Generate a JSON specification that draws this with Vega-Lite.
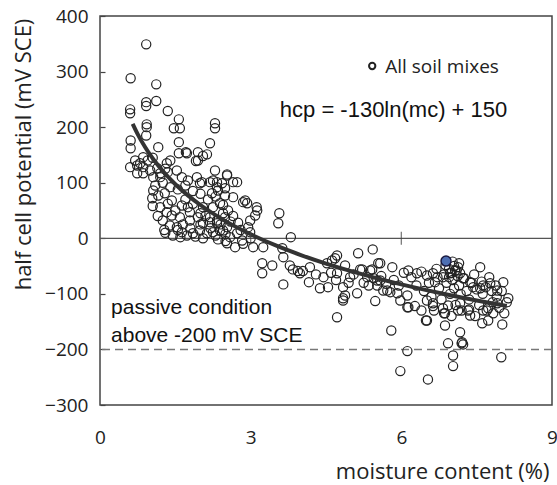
{
"$schema": "https://vega.github.io/schema/vega-lite/v6.json",
"width": 452, "height": 389,
"autosize": {"type": "none"},
"padding": {"left": 100, "top": 16, "right": 5, "bottom": 80},
"background": "white",
"config": {"view": {"stroke": "#444", "strokeWidth": 1.5}, "axis": {"grid": false}},
"datasets": {
"pts": [
{"mc":0.92,"hcp":349},{"mc":0.61,"hcp":288},{"mc":1.12,"hcp":277},{"mc":0.60,"hcp":232},{"mc":0.60,"hcp":225},{"mc":0.92,"hcp":245},{"mc":0.92,"hcp":238},{"mc":1.12,"hcp":247},{"mc":1.35,"hcp":229},{"mc":1.57,"hcp":214},{"mc":1.47,"hcp":198},{"mc":1.59,"hcp":198},{"mc":2.29,"hcp":207},{"mc":2.29,"hcp":198},{"mc":0.93,"hcp":205},{"mc":0.93,"hcp":200},{"mc":0.92,"hcp":185},{"mc":0.61,"hcp":176},{"mc":0.61,"hcp":162},{"mc":1.16,"hcp":164},{"mc":1.57,"hcp":173},{"mc":1.71,"hcp":155},{"mc":1.57,"hcp":153},{"mc":2.19,"hcp":171},{"mc":2.13,"hcp":151},{"mc":2.05,"hcp":148},{"mc":1.95,"hcp":155},{"mc":1.95,"hcp":140},{"mc":1.91,"hcp":139},{"mc":0.60,"hcp":128},{"mc":0.86,"hcp":146},{"mc":2.29,"hcp":122},{"mc":2.53,"hcp":115},{"mc":2.73,"hcp":101},{"mc":2.43,"hcp":99},{"mc":2.33,"hcp":101},{"mc":2.89,"hcp":68},{"mc":3.12,"hcp":56},{"mc":2.93,"hcp":63},{"mc":3.57,"hcp":45},{"mc":3.55,"hcp":27},{"mc":3.80,"hcp":2},
{"mc":0.74,"hcp":131},{"mc":0.86,"hcp":128},{"mc":1.0,"hcp":122},{"mc":1.14,"hcp":126},{"mc":1.33,"hcp":135},{"mc":1.35,"hcp":119},{"mc":1.2,"hcp":117},{"mc":1.06,"hcp":110},{"mc":0.86,"hcp":117},{"mc":0.74,"hcp":117},{"mc":1.53,"hcp":122},{"mc":1.63,"hcp":110},{"mc":1.75,"hcp":104},{"mc":1.93,"hcp":110},{"mc":1.99,"hcp":99},{"mc":2.19,"hcp":101},{"mc":2.33,"hcp":92},{"mc":2.49,"hcp":90},{"mc":1.73,"hcp":153},{"mc":2.03,"hcp":101},{"mc":2.25,"hcp":104},{"mc":2.65,"hcp":101},{"mc":2.53,"hcp":113},
{"mc":1.06,"hcp":86},{"mc":1.04,"hcp":72},{"mc":1.16,"hcp":77},{"mc":1.29,"hcp":81},{"mc":1.43,"hcp":68},{"mc":1.2,"hcp":56},{"mc":1.33,"hcp":47},{"mc":1.25,"hcp":32},{"mc":1.39,"hcp":23},{"mc":1.53,"hcp":20},{"mc":1.63,"hcp":11},{"mc":1.73,"hcp":5},{"mc":1.85,"hcp":9},{"mc":1.99,"hcp":14},{"mc":2.13,"hcp":9},{"mc":2.25,"hcp":11},{"mc":2.39,"hcp":14},{"mc":2.53,"hcp":20},{"mc":1.43,"hcp":41},{"mc":1.59,"hcp":38},{"mc":1.79,"hcp":32},{"mc":1.95,"hcp":38},{"mc":2.05,"hcp":27},{"mc":2.19,"hcp":29},{"mc":2.33,"hcp":32},{"mc":2.49,"hcp":38},{"mc":1.63,"hcp":59},{"mc":1.75,"hcp":56},{"mc":1.79,"hcp":47},{"mc":2.25,"hcp":56},{"mc":2.39,"hcp":63},{"mc":2.45,"hcp":45},{"mc":2.23,"hcp":81},{"mc":2.35,"hcp":86},{"mc":2.49,"hcp":77},{"mc":2.65,"hcp":74},{"mc":2.85,"hcp":65},{"mc":3.13,"hcp":50},{"mc":3.09,"hcp":41},{"mc":2.99,"hcp":32},{"mc":2.05,"hcp":56},{"mc":2.19,"hcp":38},{"mc":2.33,"hcp":27},{"mc":2.45,"hcp":14},{"mc":2.59,"hcp":2},{"mc":2.73,"hcp":9},{"mc":2.83,"hcp":-4},{"mc":2.99,"hcp":11},{"mc":2.95,"hcp":20},{"mc":2.53,"hcp":-9},{"mc":2.69,"hcp":-16},{"mc":3.05,"hcp":-16},{"mc":3.25,"hcp":-16},
{"mc":1.3,"hcp":10},{"mc":1.45,"hcp":5},{"mc":1.55,"hcp":15},{"mc":1.65,"hcp":25},{"mc":1.8,"hcp":18},{"mc":1.9,"hcp":3},{"mc":2.0,"hcp":25},{"mc":2.1,"hcp":40},{"mc":2.2,"hcp":18},{"mc":2.3,"hcp":5},{"mc":2.4,"hcp":25},{"mc":2.5,"hcp":8},{"mc":2.6,"hcp":30},{"mc":1.35,"hcp":62},{"mc":1.5,"hcp":50},{"mc":1.7,"hcp":70},{"mc":1.85,"hcp":62},{"mc":2.0,"hcp":80},{"mc":2.15,"hcp":70},{"mc":2.3,"hcp":75},{"mc":2.45,"hcp":60},{"mc":2.55,"hcp":50},{"mc":2.65,"hcp":40},{"mc":2.75,"hcp":28},{"mc":2.8,"hcp":15},{"mc":1.1,"hcp":95},{"mc":1.25,"hcp":100},{"mc":1.4,"hcp":92},{"mc":1.55,"hcp":88},{"mc":1.7,"hcp":95},{"mc":1.85,"hcp":85},{"mc":2.0,"hcp":45},{"mc":1.15,"hcp":40},{"mc":1.05,"hcp":58},{"mc":1.28,"hcp":15},{"mc":1.6,"hcp":2},{"mc":2.05,"hcp":0},{"mc":2.35,"hcp":-2},{"mc":2.5,"hcp":-5},{"mc":2.85,"hcp":-10},{"mc":3.0,"hcp":0},{"mc":1.2,"hcp":110},{"mc":0.8,"hcp":135},{"mc":0.95,"hcp":140},{"mc":1.05,"hcp":145},{"mc":0.7,"hcp":140},{"mc":1.4,"hcp":140},{"mc":1.3,"hcp":125},
{"mc":3.23,"hcp":-45},{"mc":3.43,"hcp":-49},{"mc":3.63,"hcp":-18},{"mc":3.65,"hcp":-34},{"mc":3.78,"hcp":-49},{"mc":3.23,"hcp":-63},{"mc":3.65,"hcp":-83},{"mc":3.84,"hcp":-56},{"mc":3.94,"hcp":-59},{"mc":3.98,"hcp":-63},{"mc":4.04,"hcp":-59},{"mc":4.18,"hcp":-52},{"mc":4.16,"hcp":-79},{"mc":4.38,"hcp":-90},{"mc":4.54,"hcp":-88},{"mc":4.72,"hcp":-142},{"mc":4.62,"hcp":-40},{"mc":4.72,"hcp":-31},{"mc":4.68,"hcp":-36},{"mc":4.52,"hcp":-45},{"mc":5.43,"hcp":-20},{"mc":5.14,"hcp":-27},{"mc":4.88,"hcp":-49},{"mc":5.22,"hcp":-56},{"mc":5.42,"hcp":-56},{"mc":5.54,"hcp":-45},{"mc":5.82,"hcp":-52},{"mc":4.84,"hcp":-88},{"mc":4.84,"hcp":-108},{"mc":5.12,"hcp":-99},{"mc":5.48,"hcp":-113},{"mc":4.98,"hcp":-70},{"mc":5.32,"hcp":-70},{"mc":5.58,"hcp":-76},{"mc":5.72,"hcp":-94},{"mc":5.92,"hcp":-99},{"mc":6.12,"hcp":-103},{"mc":6.27,"hcp":-122},{"mc":6.12,"hcp":-124},{"mc":5.8,"hcp":-166},{"mc":6.12,"hcp":-203},{"mc":5.98,"hcp":-239},{"mc":6.53,"hcp":-254},{"mc":6.51,"hcp":-148},{"mc":6.87,"hcp":-157},{"mc":7.17,"hcp":-169},{"mc":7.2,"hcp":-189},{"mc":6.93,"hcp":-189},{"mc":7.03,"hcp":-211},{"mc":7.03,"hcp":-230},{"mc":7.99,"hcp":-214},{"mc":7.57,"hcp":-52},{"mc":8.03,"hcp":-79},{"mc":8.13,"hcp":-108},{"mc":8.01,"hcp":-155},{"mc":7.61,"hcp":-153},{"mc":7.73,"hcp":-148},
{"mc":5.18,"hcp":-56},{"mc":5.38,"hcp":-58},{"mc":5.58,"hcp":-45},{"mc":5.52,"hcp":-76},{"mc":5.52,"hcp":-85},{"mc":5.64,"hcp":-94},{"mc":5.78,"hcp":-97},{"mc":5.98,"hcp":-112},{"mc":6.14,"hcp":-124},{"mc":6.51,"hcp":-112},{"mc":6.63,"hcp":-122},{"mc":6.49,"hcp":-148},{"mc":6.14,"hcp":-58},{"mc":6.31,"hcp":-63},{"mc":6.51,"hcp":-67},{"mc":6.63,"hcp":-63},{"mc":4.72,"hcp":-63},{"mc":4.88,"hcp":-103},{"mc":4.84,"hcp":-112},
{"mc":4.3,"hcp":-65},{"mc":4.45,"hcp":-70},{"mc":4.6,"hcp":-62},{"mc":4.7,"hcp":-75},{"mc":4.95,"hcp":-80},{"mc":5.05,"hcp":-65},{"mc":5.25,"hcp":-80},{"mc":5.35,"hcp":-85},{"mc":5.45,"hcp":-72},{"mc":5.6,"hcp":-68},{"mc":5.7,"hcp":-82},{"mc":5.85,"hcp":-75},{"mc":5.95,"hcp":-85},{"mc":6.05,"hcp":-62},
{"mc":6.2,"hcp":-70},{"mc":6.3,"hcp":-85},{"mc":6.4,"hcp":-60},{"mc":6.45,"hcp":-95},{"mc":6.55,"hcp":-80},{"mc":6.6,"hcp":-105},{"mc":6.7,"hcp":-55},{"mc":6.72,"hcp":-70},{"mc":6.75,"hcp":-90},{"mc":6.8,"hcp":-110},{"mc":6.85,"hcp":-65},{"mc":6.9,"hcp":-80},{"mc":6.95,"hcp":-55},{"mc":6.97,"hcp":-100},{"mc":7.0,"hcp":-62},{"mc":7.02,"hcp":-75},{"mc":7.05,"hcp":-90},{"mc":7.08,"hcp":-120},{"mc":7.1,"hcp":-58},{"mc":7.12,"hcp":-68},{"mc":7.15,"hcp":-85},{"mc":7.18,"hcp":-100},{"mc":7.2,"hcp":-130},{"mc":7.25,"hcp":-72},{"mc":7.3,"hcp":-95},{"mc":7.35,"hcp":-110},{"mc":7.4,"hcp":-80},{"mc":7.45,"hcp":-65},{"mc":7.5,"hcp":-92},{"mc":7.55,"hcp":-120},{"mc":7.6,"hcp":-78},{"mc":7.62,"hcp":-100},{"mc":7.68,"hcp":-88},{"mc":7.7,"hcp":-130},{"mc":7.75,"hcp":-70},{"mc":7.8,"hcp":-95},{"mc":7.82,"hcp":-115},{"mc":7.88,"hcp":-85},{"mc":7.9,"hcp":-105},{"mc":7.95,"hcp":-125},{"mc":8.0,"hcp":-95},{"mc":8.05,"hcp":-135},{"mc":8.1,"hcp":-115},{"mc":7.47,"hcp":-140},{"mc":6.65,"hcp":-130},{"mc":6.85,"hcp":-135},{"mc":7.0,"hcp":-140},{"mc":7.35,"hcp":-128},{"mc":6.4,"hcp":-130},{"mc":6.95,"hcp":-70},{"mc":7.05,"hcp":-50},{"mc":6.88,"hcp":-48},{"mc":7.15,"hcp":-45},{"mc":7.02,"hcp":-42},
{"mc":6.67,"hcp":-79},{"mc":6.83,"hcp":-70},{"mc":6.97,"hcp":-63},{"mc":7.07,"hcp":-58},{"mc":7.13,"hcp":-52},{"mc":7.17,"hcp":-63},{"mc":7.23,"hcp":-72},{"mc":7.37,"hcp":-79},{"mc":7.43,"hcp":-88},{"mc":7.57,"hcp":-90},{"mc":7.63,"hcp":-85},{"mc":7.77,"hcp":-81},{"mc":7.91,"hcp":-94},{"mc":6.63,"hcp":-117},{"mc":6.83,"hcp":-126},{"mc":6.87,"hcp":-135},{"mc":6.93,"hcp":-121},{"mc":7.13,"hcp":-130},{"mc":7.17,"hcp":-117},{"mc":7.33,"hcp":-130},{"mc":7.37,"hcp":-139},{"mc":7.63,"hcp":-130},{"mc":7.73,"hcp":-126},{"mc":7.83,"hcp":-135},{"mc":7.91,"hcp":-117},{"mc":7.21,"hcp":-187},{"mc":7.23,"hcp":-191}
],
"fit": [
{"mc":0.65,"hcp":206.0},{"mc":0.75,"hcp":187.4},{"mc":0.9,"hcp":163.7},{"mc":1.0,"hcp":150.0},{"mc":1.1,"hcp":137.6},{"mc":1.25,"hcp":121.0},{"mc":1.5,"hcp":97.3},{"mc":1.75,"hcp":77.2},{"mc":2.0,"hcp":59.9},{"mc":2.5,"hcp":30.9},{"mc":3.0,"hcp":7.2},{"mc":3.5,"hcp":-12.9},{"mc":4.0,"hcp":-30.2},{"mc":4.5,"hcp":-45.5},{"mc":5.0,"hcp":-59.2},{"mc":5.5,"hcp":-71.6},{"mc":6.0,"hcp":-82.9},{"mc":6.5,"hcp":-93.3},{"mc":7.0,"hcp":-103.0},{"mc":7.5,"hcp":-111.9},{"mc":8.1,"hcp":-121.9}
]
},
"layer": [
{"data": {"values": [{"hcp": 0}]}, "mark": {"type": "rule", "color": "#555", "strokeWidth": 1.3}, "encoding": {"y": {"field": "hcp", "type": "quantitative"}}},
{"data": {"values": [{"hcp": -200}]}, "mark": {"type": "rule", "color": "#777", "strokeWidth": 1.5, "strokeDash": [8, 5]}, "encoding": {"y": {"field": "hcp", "type": "quantitative"}}},
{"data": {"name": "pts"},
 "mark": {"type": "point", "shape": "circle", "filled": false, "size": 85, "stroke": "#222", "strokeWidth": 1.2, "opacity": 1},
 "encoding": {
  "x": {"field": "mc", "type": "quantitative", "scale": {"domain": [0, 9], "nice": false, "zero": false},
   "axis": {"values": [0, 3, 6, 9], "ticks": false, "domain": false, "labelFont": "Open Sans", "labelFontSize": 19, "labelColor": "#222", "labelPadding": 23, "labelFlush": false,
    "title": "moisture content (%)", "titleFont": "Open Sans", "titleFontSize": 22, "titleFontWeight": "normal", "titleColor": "#222", "titleAnchor": "end", "titleAlign": "right", "titleX": 449, "titleY": 73, "titleBaseline": "alphabetic"}},
  "y": {"field": "hcp", "type": "quantitative", "scale": {"domain": [-300, 400], "nice": false},
   "axis": {"values": [-300, -200, -100, 0, 100, 200, 300, 400], "tickSize": -5, "tickColor": "#444", "tickWidth": 1.2, "domain": false, "labelFont": "Open Sans", "labelFontSize": 19, "labelColor": "#222", "labelPadding": 17, "labelFlush": false,
    "title": "half cell potential (mV SCE)", "titleFont": "Open Sans", "titleFontSize": 22, "titleFontWeight": "normal", "titleColor": "#222", "titleX": -70, "titleY": 138, "titleAngle": -90, "titleBaseline": "alphabetic", "titleAlign": "center"}}
 }},
{"data": {"name": "fit"}, "mark": {"type": "line", "color": "#333", "strokeWidth": 4, "interpolate": "monotone"},
 "encoding": {"x": {"field": "mc", "type": "quantitative"}, "y": {"field": "hcp", "type": "quantitative"}}},
{"data": {"values": [{"mc": 3, "hcp": 0}, {"mc": 6, "hcp": 0}]}, "mark": {"type": "tick", "orient": "vertical", "color": "#444", "size": 13, "thickness": 1.3},
 "encoding": {"x": {"field": "mc", "type": "quantitative"}, "y": {"field": "hcp", "type": "quantitative"}}},
{"data": {"values": [{"mc": 6.89, "hcp": -41}]}, "mark": {"type": "point", "shape": "circle", "filled": true, "size": 100, "fill": "#4d6fb3", "stroke": "#1a1a40", "strokeWidth": 1.5, "opacity": 1},
 "encoding": {"x": {"field": "mc", "type": "quantitative"}, "y": {"field": "hcp", "type": "quantitative"}}},
{"data": {"values": [{"mc": 5.42, "hcp": 310}]}, "mark": {"type": "point", "shape": "circle", "filled": false, "size": 40, "stroke": "#222", "strokeWidth": 2, "opacity": 1},
 "encoding": {"x": {"field": "mc", "type": "quantitative"}, "y": {"field": "hcp", "type": "quantitative"}}},
{"data": {"values": [{"mc": 5.68, "hcp": 297, "label": "All soil mixes"}]}, "mark": {"type": "text", "font": "Open Sans", "fontSize": 19, "align": "left", "baseline": "alphabetic", "color": "#222"},
 "encoding": {"x": {"field": "mc", "type": "quantitative"}, "y": {"field": "hcp", "type": "quantitative"}, "text": {"field": "label"}}},
{"data": {"values": [{"mc": 3.58, "hcp": 218, "label": "hcp = -130ln(mc) + 150"}]}, "mark": {"type": "text", "font": "Liberation Sans", "fontSize": 22, "align": "left", "baseline": "alphabetic", "color": "#111"},
 "encoding": {"x": {"field": "mc", "type": "quantitative"}, "y": {"field": "hcp", "type": "quantitative"}, "text": {"field": "label"}}},
{"data": {"values": [{"mc": 0.22, "hcp": -137, "label": "passive condition"}, {"mc": 0.22, "hcp": -187, "label": "above -200 mV SCE"}]}, "mark": {"type": "text", "font": "Liberation Sans", "fontSize": 21, "align": "left", "baseline": "alphabetic", "color": "#111"},
 "encoding": {"x": {"field": "mc", "type": "quantitative"}, "y": {"field": "hcp", "type": "quantitative"}, "text": {"field": "label"}}}
]
}
